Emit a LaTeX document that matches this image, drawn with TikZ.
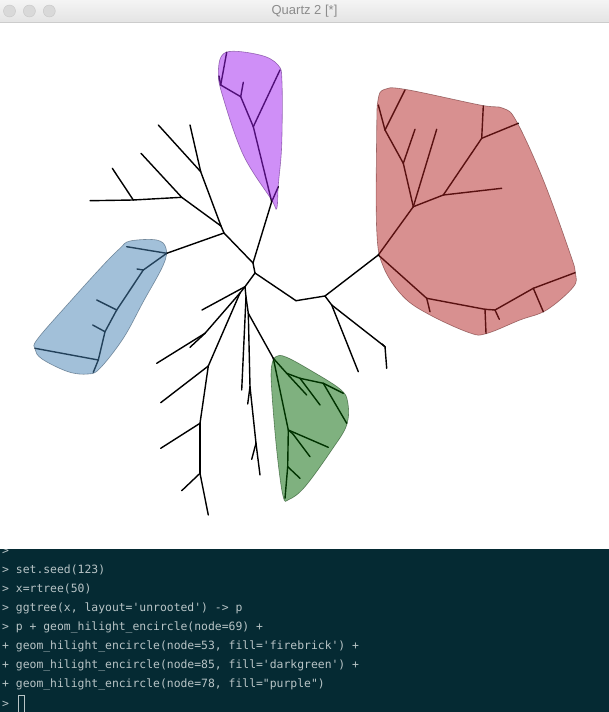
\documentclass[tikz,border=0pt]{standalone}
\usepackage{fontspec}
\usepackage{tikz}
\usetikzlibrary{positioning, calc}
\usepackage{xcolor}
\newfontfamily\uifont{Liberation Sans}
\setmonofont{DejaVu Sans Mono}
\definecolor{termbg}{HTML}{052A33}
\definecolor{termtext}{HTML}{B8C4C6}
\definecolor{barhi}{HTML}{F4F4F4}
\definecolor{barlo}{HTML}{E4E4E4}
\definecolor{steelblue}{RGB}{70,130,180}
\definecolor{firebrick}{RGB}{178,34,34}
\definecolor{darkgreen}{RGB}{0,100,0}
\definecolor{purplecol}{RGB}{160,32,240}
\tikzset{
  % one edge of the unrooted tree
  branch/.style={line width=1.4pt, line cap=round, line join=round},
  % translucent hull round a clade
  hull/.style={fill=#1, fill opacity=0.5, draw=#1!45!black,
               draw opacity=0.5, line width=0.6pt},
  % traffic-light buttons of the window
  winbtn/.style={circle, fill=black!15, draw=black!22, line width=0.4pt,
                 inner sep=0pt, minimum size=12pt},
  % console text
  termline/.style={anchor=base west, inner sep=0pt, text=termtext,
                   font=\ttfamily\fontsize{11.4}{13}\selectfont},
}

\begin{document}
\begin{tikzpicture}[x=1pt, y=-1pt]
  \useasboundingbox (0,0) rectangle (609,712);
  \fill[white] (0,0) rectangle (609,712);

  % tree vertices (pixels, y downwards)
  \foreach \n/\x/\y in {c1/253/263, c2/255/273,
      ul1/224/233, ul2/221/226, ul3/200.7/171.7, ul4/181.7/197.3, ul5/133.3/200,
      ult1/190/125, ult2/158.3/125, ult3/141/153.3, ult4/90/200.7, ult5/112.3/168.3,
      bl0/166.7/253.3, bl1/143.3/270, bl2/116.7/310, bl3/105/331.7, bl4/98.3/360,
      blt1/126.7/246.7, blt2/137/269, blt3/96.7/300, blt4/92.7/325,
      blt5/35/348.3, blt6/93.3/372.3,
      pu0/271.7/201.7, pu1/253.3/126.7, pu2/240.7/96.7, pu3/220.7/85,
      put1/278.3/186.7, put2/280/70, put3/243.3/82.3, put4/226.7/52.3, put5/219/76,
      rd1/296/300.7, rd2/325/296, rd3/331.7/305, rd4/385/346.7,
      rdt1/358.3/371.7, rdt2/386.7/368.3, rdt3/382/344,
      fb0/378.3/255, fba/413.3/206.7, fbb/426.7/298.3, fbc/403.3/163.3, fbd/385/130,
      fbe/443.3/195, fbf/481.7/138.3, fbg/485/309.3, fbh/495/310, fbi/533.3/288.3,
      fbt1/415/129.3, fbt2/378.3/105, fbt3/405/90, fbt4/436.7/129.3,
      fbt5/501.7/188.3, fbt6/483.3/106, fbt7/518.3/123.3, fbt8/430/311.7,
      fbt9/486/333.3, fbt10/499.3/319.3, fbt11/543.3/311.7, fbt12/575/272.7,
      lo0/245/286.7, lo1/240/293, lo2/205/333.3, lo3/208.3/366, lo4/200/423.3,
      lo5/200/473.3, lo6/246/297, lo7/248.3/313.3, lo8/250/386.7, lo9/256/443.3,
      lot1/202/310, lot2/190/347.3, lot3/156.7/363.3, lot4/160.7/402.7,
      lot5/160.7/448.3, lot6/181.7/490.7, lot7/208.3/515, lot8/241.7/390,
      lot9/247.7/404, lot10/251.7/459.3, lot11/260/475,
      gr0/273.3/358.3, gr1/286.7/373.3, gr2/300/378.3, gr3/323.3/383.3,
      gr4/288.3/430, gr5/293/434, gr6/287.7/466.7,
      grt1/306.7/395, grt2/320/405, grt3/346.7/423.3, grt4/343.3/393.3,
      grt5/328.3/447.3, grt6/310/456.7, grt7/300/478.3, grt8/285/498.3}
    \coordinate (\n) at (\x,\y);

  % tree edges
  \foreach \a/\b in {c1/c2, c1/ul1, ul1/ul2, ul1/bl0, ul2/ul3, ul2/ul4,
      ul3/ult1, ul3/ult2, ul4/ult3, ul4/ul5, ul5/ult4, ul5/ult5,
      bl0/blt1, bl0/bl1, bl1/blt2, bl1/bl2, bl2/blt3, bl2/bl3, bl3/blt4,
      bl3/bl4, bl4/blt5, bl4/blt6,
      c1/pu0, pu0/put1, pu0/pu1, pu1/put2, pu1/pu2, pu2/put3, pu2/pu3,
      pu3/put4, pu3/put5,
      c2/rd1, rd1/rd2, rd2/fb0, rd2/rd3, rd3/rdt1, rd3/rd4, rd4/rdt2, rd4/rdt3,
      fb0/fba, fb0/fbb, fba/fbc, fba/fbt4, fba/fbe, fbc/fbt1, fbc/fbd,
      fbd/fbt2, fbd/fbt3, fbe/fbt5, fbe/fbf, fbf/fbt6, fbf/fbt7,
      fbb/fbt8, fbb/fbg, fbg/fbt9, fbg/fbh, fbh/fbt10, fbh/fbi,
      fbi/fbt11, fbi/fbt12,
      c2/lo0, lo0/lot1, lo0/lo1, lo1/lo2, lo2/lot2, lo2/lot3, lo1/lo3,
      lo3/lot4, lo3/lo4, lo4/lot5, lo4/lo5, lo5/lot6, lo5/lot7,
      lo0/lo6, lo6/lot8, lo6/lo7, lo7/gr0, lo7/lo8, lo8/lot9, lo8/lo9,
      lo9/lot10, lo9/lot11,
      gr0/gr1, gr1/grt1, gr1/gr2, gr2/grt2, gr2/gr3, gr3/grt3, gr3/grt4,
      gr0/gr4, gr4/grt5, gr4/gr5, gr5/grt6, gr4/gr6, gr6/grt7, gr6/grt8}
    \draw[branch] (\a) -- (\b);

  % hulls over the highlighted clades
  \draw[hull=steelblue] plot[smooth cycle, tension=0.6] coordinates {
    (130,241) (156.7,240) (166,248.3) (163.3,265) (143.3,301.7) (123.3,338.3)
    (100,368.3) (88,374) (68,371.7) (42,359) (35,349) (37.5,339)
    (70,301.7) (103.3,265) (120,248.3)};
  \draw[hull=firebrick] plot[smooth cycle, tension=0.6] coordinates {
    (384,89.5) (405,89.3) (480,105) (503.3,108.3) (516.7,121.7) (543.3,180)
    (570,253.3) (575.5,273.3) (573.3,287) (546.7,310) (520,320) (486.7,333.5)
    (470,333) (430,315) (403.3,296.7) (383.3,266.7) (376.7,230) (376.7,130)
    (378,100)};
  \draw[hull=darkgreen] plot[smooth cycle, tension=0.6] coordinates {
    (276,356.5) (286,357) (310,370) (340,389) (347.7,402) (346.7,425)
    (331.7,450) (305,486.7) (289,499.5) (283,496) (276.7,450) (271.7,390)
    (271.5,366.7)};
  \draw[hull=purplecol] plot[smooth cycle, tension=0.6] coordinates {
    (226,52.3) (260,55) (278,65) (282,82) (281.7,145) (278.3,185)
    (276.7,208.5) (271,199) (243.3,155) (223.3,98.3) (218.3,71.7)};

  % window title bar
  \shade[top color=barhi, bottom color=barlo] (0,0) rectangle (609,22);
  \draw[black!20, line width=0.8pt] (0,22.5) -- (609,22.5);
  \node[winbtn] (btnclose) at (9.5,11) {};
  \node[winbtn, right=7.5pt of btnclose] (btnmin) {};
  \node[winbtn, right=7.5pt of btnmin] (btnmax) {};
  \node[text=black!45, font=\uifont\fontsize{13}{14}\selectfont] (title)
    at (304.5,11) {Quartz 2 [*]};

  % console
  \fill[termbg] (0,549) rectangle (609,712);
  \begin{scope}
    \clip (0,549) rectangle (609,712);
    \node[termline] (prev) at (2,554.5) {>};
  \end{scope}
  \node[termline] (cmdseed) at (2,573) {\detokenize{> set.seed(123)}};
  \node[termline] (cmdtree) at (2,592.5) {\detokenize{> x=rtree(50)}};
  \node[termline] (cmdplot) at (2,611.5)
    {\detokenize{> ggtree(x, layout='unrooted') -> p}};
  \node[termline] (cmdblue) at (2,630.5)
    {\detokenize{> p + geom_hilight_encircle(node=69) +}};
  \node[termline] (cmdred) at (2,649.5)
    {\detokenize{+ geom_hilight_encircle(node=53, fill='firebrick') +}};
  \node[termline] (cmdgreen) at (2,668.5)
    {\detokenize{+ geom_hilight_encircle(node=85, fill='darkgreen') +}};
  \node[termline] (cmdpurple) at (2,687.5)
    {\detokenize{+ geom_hilight_encircle(node=78, fill="purple")}};
  \node[termline] (prompt) at (2,707.5) {>};
  \node[draw=termtext, line width=0.6pt, inner sep=0pt,
        minimum width=6.5pt, minimum height=17.5pt,
        right=8.5pt of prompt] (cursor) {};
\end{tikzpicture}
\end{document}
